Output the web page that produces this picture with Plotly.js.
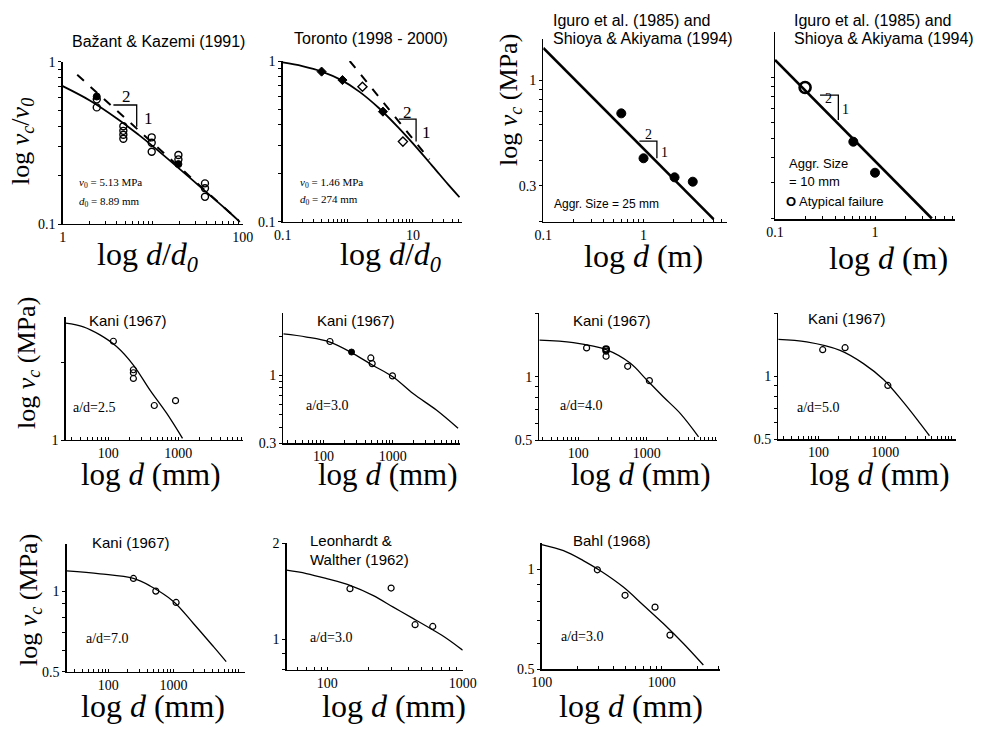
<!DOCTYPE html>
<html><head><meta charset="utf-8">
<script src="https://cdn.plot.ly/plotly-3.0.1.min.js"></script>
<style>body{margin:0;background:#fff}</style>
</head><body>
<div id="chart" style="width:981px;height:730px"></div>
<script>
// ---------- DATA ----------
// Panel 1: Bazant & Kazemi (1991)  (x = d/d0, y = vc/v0)
const bk_x = [2.39,2.39, 4.72,4.72,4.72,4.72, 9.75,9.75,9.75, 19.3,19.3, 38.1,38.1,38.1];
const bk_y = [0.586,0.523, 0.40,0.375,0.355,0.335, 0.342,0.317,0.279, 0.266,0.25, 0.178,0.166,0.147];
const bk_fx = [2.39, 19.3];
const bk_fy = [0.61, 0.234];
const bk_cx = [1, 2, 4, 7, 10, 20, 40, 70, 93];
const bk_cy = [0.707, 0.577, 0.447, 0.354, 0.302, 0.218, 0.156, 0.119, 0.103];
const bk_dx = [1.45, 90];
const bk_dy = [0.83, 0.105];
const bk_tx = [3.66, 6.64, 6.64];
const bk_ty = [0.541, 0.541, 0.398];
// Panel 2: Toronto (1998-2000)
const to_fx = [0.396, 0.828, 3.47];
const to_fy = [0.859, 0.761, 0.484];
const to_ox = [1.68, 7.03];
const to_oy = [0.692, 0.315];
const to_cx = [0.1, 0.2, 0.4, 0.8, 1.5, 3, 6, 10, 20, 35, 52];
const to_cy = [0.98, 0.93, 0.86, 0.76, 0.645, 0.51, 0.385, 0.307, 0.222, 0.17, 0.142];
const to_dx = [1.07, 18];
const to_dy = [1.0, 0.244];
const to_tx = [6.1, 11.2, 11.2];
const to_ty = [0.435, 0.435, 0.315];
// Panel 3: Iguro / Shioya, aggr. 25 mm (d in m, vc in MPa)
const ig25_x = [0.6, 1.0, 2.04, 3.1];
const ig25_y = [0.684, 0.41, 0.33, 0.314];
const ig25_lx = [0.1, 5.0];
const ig25_ly = [1.44, 0.205];
const ig25_tx = [0.91, 1.36, 1.36];
const ig25_ty = [0.499, 0.499, 0.41];
// Panel 4: Iguro / Shioya, aggr. 10 mm
const ig10_x = [0.607, 1.0];
const ig10_y = [0.48, 0.337];
const ig10_ax = [0.2];
const ig10_ay = [0.89];
const ig10_lx = [0.1, 3.7];
const ig10_ly = [1.22, 0.2];
const ig10_tx = [0.282, 0.43, 0.43];
const ig10_ty = [0.817, 0.817, 0.615];
// Panel 5: Kani a/d=2.5 (d in mm)
const k25_x = [118, 228, 228, 228, 454, 914];
const k25_y = [2.41, 1.87, 1.82, 1.73, 1.36, 1.42];
const k25_cx = [24.5, 43.9, 75.9, 131, 228, 394, 681, 1150];
const k25_cy = [2.83, 2.74, 2.55, 2.30, 1.95, 1.56, 1.27, 1.015];
// Panel 6: Kani a/d=3.0
const k30_x = [124, 482, 504, 989];
const k30_y = [1.82, 1.36, 1.23, 0.99];
const k30_fx = [254];
const k30_fy = [1.51];
const k30_cx = [26.3, 57, 124, 268, 521, 1012, 1963, 4257, 8750];
const k30_cy = [2.08, 1.97, 1.80, 1.47, 1.19, 0.971, 0.724, 0.540, 0.391];
// Panel 7: Kani a/d=4.0
const k40_x = [132, 254, 254, 525, 1090];
const k40_y = [1.37, 1.32, 1.25, 1.12, 0.957];
const k40_fx = [254];
const k40_fy = [1.35];
const k40_cx = [26.9, 84.5, 260, 570, 1000, 1751, 3070, 5690];
const k40_cy = [1.49, 1.45, 1.34, 1.16, 0.964, 0.80, 0.669, 0.518];
// Panel 8: Kani a/d=5.0
const k50_x = [116, 251, 1096];
const k50_y = [1.34, 1.37, 0.904];
const k50_cx = [25, 66.8, 211, 473, 944, 1884, 3350, 4600];
const k50_cy = [1.50, 1.46, 1.33, 1.15, 0.965, 0.75, 0.594, 0.52];
// Panel 9: Kani a/d=7.0
const k70_x = [243, 536, 1100];
const k70_y = [1.115, 1.0, 0.907];
const k70_cx = [22.9, 74.6, 243, 439, 1000, 2030, 4130, 6470];
const k70_cy = [1.19, 1.16, 1.115, 1.045, 0.915, 0.757, 0.62, 0.545];
// Panel 10: Leonhardt & Walther (1962)
const lw_x = [147, 296, 445, 601];
const lw_y = [1.44, 1.447, 1.11, 1.096];
const lw_cx = [50, 70, 99, 147, 219, 307, 432, 600, 762, 1000];
const lw_cy = [1.646, 1.607, 1.549, 1.476, 1.37, 1.26, 1.16, 1.07, 1.005, 0.923];
// Panel 11: Bahl (1968)
const bh_x = [291, 495, 880, 1172];
const bh_y = [0.998, 0.836, 0.77, 0.634];
const bh_cx = [100, 152, 222, 306, 479, 704, 1032, 1517, 2224];
const bh_cy = [1.189, 1.14, 1.064, 0.993, 0.885, 0.78, 0.687, 0.598, 0.515];

// tick labels per panel
const p1_xl = ['1','100'],  p1_yl = ['0.1','1'];
const p2_xl = ['0.1','10'], p2_yl = ['0.1','1'];
const p3_xl = ['0.1','1'],  p3_yl = ['0.3','1'];
const p4_xl = ['0.1','1'],  p4_yl = [];
const p5_xl = ['100','1000'], p5_yl = ['1','3'];
const p6_xl = ['100','1000'], p6_yl = ['0.3','1'];
const p7_xl = ['100','1000'], p7_yl = ['0.5','1'];
const p8_xl = ['100','1000'], p8_yl = ['0.5','1'];
const p9_xl = ['100','1000'], p9_yl = ['0.5','1'];
const p10_xl = ['100','1000'], p10_yl = ['1','2'];
const p11_xl = ['100','1000'], p11_yl = ['0.5','1'];

// ---------- LAYOUT ----------
const W = 981, H = 730;
const SANS = 'Liberation Sans, Arial, sans-serif';
const SERIF = 'Liberation Serif, Times New Roman, serif';
function fx(x){ return x / W; }
function fy(y){ return 1 - y / H; }

// panel boxes in pixels [left, right, top, bottom] and log ranges
const panels = [
  {box:[62.7,242.7,61.7,224],  xr:[0,2],        yr:[-1,0],          xl:p1_xl, yl:p1_yl},
  {box:[282.7,461.7,61,221.7], xr:[-1,1.75],    yr:[-1,0],          xl:p2_xl, yl:p2_yl},
  {box:[543.3,726.7,39,221.7], xr:[-1,0.83],    yr:[-0.701,0.203],  xl:p3_xl, yl:p3_yl},
  {box:[775,955,31.7,219.3],   xr:[-1,0.8],     yr:[-0.703,0.226],  xl:p4_xl, yl:p4_yl},
  {box:[65.7,243.3,316.7,440], xr:[1.39,3.93],  yr:[0,0.477],       xl:p5_xl, yl:p5_yl},
  {box:[283.3,460,313.3,443.3],xr:[1.42,3.97],  yr:[-0.523,0.477],  xl:p6_xl, yl:p6_yl},
  {box:[539.3,716.7,313.3,440],xr:[1.43,4.02],  yr:[-0.301,0.301],  xl:p7_xl, yl:p7_yl},
  {box:[778.3,956,313.3,439.3],xr:[1.40,4.06],  yr:[-0.301,0.301],  xl:p8_xl, yl:p8_yl},
  {box:[66.7,245,544,671.7],   xr:[1.36,4.10],  yr:[-0.301,0.176],  xl:p9_xl, yl:p9_yl},
  {box:[286.7,462.7,543.3,670],xr:[1.7,3.0],    yr:[-0.097,0.301],  xl:p10_xl, yl:p10_yl},
  {box:[541.7,720,543.3,669.3],xr:[2,3.486],    yr:[-0.301,0.079],  xl:p11_xl, yl:p11_yl}
];

function logTicks(r, labels){
  const vals = [], text = [];
  for (let k = Math.floor(r[0]) - 1; k <= Math.ceil(r[1]); k++){
    for (let m = 1; m <= 9; m++){
      const v = m * Math.pow(10, k);
      const lv = Math.log10(v);
      if (lv < r[0] - 1e-3 || lv > r[1] + 1e-3) continue;
      vals.push(v);
      let t = '';
      labels.forEach(function(l){ if (Math.abs(Math.log10(parseFloat(l)) - lv) < 1e-6) t = l; });
      text.push(t);
    }
  }
  return {vals: vals, text: text};
}

const layout = {
  width: W, height: H, margin: {l:0, r:0, t:0, b:0},
  paper_bgcolor: '#fff', plot_bgcolor: 'rgba(0,0,0,0)',
  showlegend: false, annotations: []
};

panels.forEach(function(p, i){
  const n = i + 1;
  const xt = logTicks(p.xr, p.xl), yt = logTicks(p.yr, p.yl);
  layout['xaxis' + n] = {
    type:'log', range:p.xr, domain:[fx(p.box[0]), fx(p.box[1])], anchor:'y' + n,
    showline:true, linecolor:'#000', linewidth:1.3, showgrid:false, zeroline:false,
    ticks:'inside', ticklen:3, tickwidth:1, tickcolor:'#000',
    tickmode:'array', tickvals:xt.vals, ticktext:xt.text,
    tickfont:{family:SERIF, size:14, color:'#000'}, fixedrange:true
  };
  layout['yaxis' + n] = {
    type:'log', range:p.yr, domain:[fy(p.box[3]), fy(p.box[2])], anchor:'x' + n,
    showline:true, linecolor:'#000', linewidth:1.3, showgrid:false, zeroline:false,
    ticks:'outside', ticklen:3, tickwidth:1, tickcolor:'#000',
    tickmode:'array', tickvals:yt.vals, ticktext:yt.text,
    tickfont:{family:SERIF, size:14, color:'#000'}, fixedrange:true
  };
});

const traces = [];
function ax(n){ return {xaxis: n === 1 ? 'x' : 'x' + n, yaxis: n === 1 ? 'y' : 'y' + n}; }
function line(n, x, y, w, dash, smooth){
  traces.push(Object.assign({type:'scatter', mode:'lines', x:x, y:y,
    line:{color:'#000', width:w, dash:dash || 'solid', shape: smooth ? 'spline' : 'linear'},
    hoverinfo:'skip'}, ax(n)));
}
function pts(n, x, y, sym, size, lw){
  traces.push(Object.assign({type:'scatter', mode:'markers', x:x, y:y,
    marker:{symbol:sym, size:size, color:'#000', line:{color:'#000', width:lw}}, hoverinfo:'skip'}, ax(n)));
}

// panel 1
line(1, bk_cx, bk_cy, 1.8, 'solid', true);
line(1, bk_dx, bk_dy, 2, 'dash');
line(1, bk_tx, bk_ty, 1.3);
pts(1, bk_x, bk_y, 'circle-open', 7, 1.4);
pts(1, bk_fx, bk_fy, 'circle', 7, 1);
// panel 2
line(2, to_cx, to_cy, 1.8, 'solid', true);
line(2, to_dx, to_dy, 2, 'dash');
line(2, to_tx, to_ty, 1.3);
pts(2, to_fx, to_fy, 'diamond', 7, 1);
pts(2, to_ox, to_oy, 'diamond-open', 7, 1.4);
// panel 3
line(3, ig25_lx, ig25_ly, 2.6);
line(3, ig25_tx, ig25_ty, 1.3);
pts(3, ig25_x, ig25_y, 'circle', 9, 1);
// panel 4
line(4, ig10_lx, ig10_ly, 2.6);
line(4, ig10_tx, ig10_ty, 1.3);
pts(4, ig10_x, ig10_y, 'circle', 9, 1);
pts(4, ig10_ax, ig10_ay, 'circle-open', 11, 2.6);
// row 2 and 3
line(5, k25_cx, k25_cy, 1.3, 'solid', true);  pts(5, k25_x, k25_y, 'circle-open', 6, 1.2);
line(6, k30_cx, k30_cy, 1.3, 'solid', true);  pts(6, k30_x, k30_y, 'circle-open', 6, 1.2); pts(6, k30_fx, k30_fy, 'circle', 6, 1);
line(7, k40_cx, k40_cy, 1.3, 'solid', true);  pts(7, k40_x, k40_y, 'circle-open', 6, 1.2); pts(7, k40_fx, k40_fy, 'circle-open', 6, 2);
line(8, k50_cx, k50_cy, 1.3, 'solid', true);  pts(8, k50_x, k50_y, 'circle-open', 6, 1.2);
line(9, k70_cx, k70_cy, 1.3, 'solid', true);  pts(9, k70_x, k70_y, 'circle-open', 6, 1.2);
line(10, lw_cx, lw_cy, 1.3, 'solid', true);   pts(10, lw_x, lw_y, 'circle-open', 6, 1.2);
line(11, bh_cx, bh_cy, 1.3, 'solid', true);   pts(11, bh_x, bh_y, 'circle-open', 6, 1.2);

function ann(text, x, y, font, size, xanchor, angle){
  const a = {text:text, x:fx(x), y:fy(y), xref:'paper', yref:'paper', showarrow:false,
    xanchor:xanchor || 'center', yanchor:'middle',
    font:{family:font, size:size, color:'#000'}};
  if (angle !== undefined) a.textangle = angle;
  layout.annotations.push(a);
}
// titles
ann('Bažant &amp; Kazemi (1991)', 158, 41, SANS, 16);
ann('Toronto (1998 - 2000)', 371, 39, SANS, 16);
ann('Iguro et al. (1985) and', 551, 20, SANS, 16, 'left');
ann('Shioya &amp; Akiyama (1994)', 551, 39, SANS, 16, 'left');
ann('Iguro et al. (1985) and', 792, 20, SANS, 16, 'left');
ann('Shioya &amp; Akiyama (1994)', 792, 39, SANS, 16, 'left');
ann('Kani (1967)', 128, 320, SANS, 15);
ann('Kani (1967)', 356, 320, SANS, 15);
ann('Kani (1967)', 612, 320, SANS, 15);
ann('Kani (1967)', 847, 318, SANS, 15);
ann('Kani (1967)', 131, 542, SANS, 15);
ann('Leonhardt &amp;', 308, 540, SANS, 15, 'left');
ann('Walther (1962)', 308, 559, SANS, 15, 'left');
ann('Bahl (1968)', 612, 540, SANS, 15);
// in-plot texts
ann('<i>v</i><sub>0</sub> = 5.13 MPa', 77, 183, SERIF, 11, 'left');
ann('<i>d</i><sub>0</sub> = 8.89 mm', 77, 202, SERIF, 11, 'left');
ann('<i>v</i><sub>0</sub> = 1.46 MPa', 298, 183, SERIF, 11, 'left');
ann('<i>d</i><sub>0</sub> = 274 mm', 298, 200, SERIF, 11, 'left');
ann('Aggr. Size = 25 mm', 552, 204, SANS, 12, 'left');
ann('Aggr. Size', 787, 163, SANS, 13, 'left');
ann('= 10 mm', 787, 182, SANS, 13, 'left');
ann('<b>O</b> Atypical failure', 784, 202, SANS, 13, 'left');
ann('a/d=2.5', 94, 407, SERIF, 14);
ann('a/d=3.0', 327, 405, SERIF, 14);
ann('a/d=4.0', 581, 405, SERIF, 14);
ann('a/d=5.0', 818, 407, SERIF, 14);
ann('a/d=7.0', 107, 638, SERIF, 14);
ann('a/d=3.0', 331, 637, SERIF, 14);
ann('a/d=3.0', 582, 636, SERIF, 14);
// slope triangle labels
ann('2', 126, 97, SERIF, 17); ann('1', 148, 119, SERIF, 17);
ann('2', 407, 112, SERIF, 17); ann('1', 426, 133, SERIF, 17);
ann('2', 648, 135, SERIF, 14); ann('1', 664, 152, SERIF, 14);
ann('2', 828, 98, SERIF, 14); ann('1', 845, 109, SERIF, 14);
// axis titles
const XD0 = 'log <i>d</i>/<i>d</i><sub><i>0</i></sub>';
const XM = 'log <i>d</i> (m)';
const XMM = 'log <i>d</i> (mm)';
ann(XD0, 147, 257, SERIF, 32);
ann(XD0, 390, 257, SERIF, 32);
ann(XM, 643, 256, SERIF, 32);
ann(XM, 888, 258, SERIF, 32);
ann(XMM, 151, 474, SERIF, 31);
ann(XMM, 388, 474, SERIF, 31);
ann(XMM, 641, 474, SERIF, 31);
ann(XMM, 880, 474, SERIF, 31);
ann(XMM, 153, 706, SERIF, 32);
ann(XMM, 394, 706, SERIF, 32);
ann(XMM, 631, 706, SERIF, 32);
const YV0 = 'log <i>v</i><sub><i>c</i></sub>/<i>v</i><sub><i>0</i></sub>';
const YMPA = 'log <i>v</i><sub><i>c</i></sub> (MPa)';
ann(YV0, 22, 142, SERIF, 26, 'center', -90);
ann(YMPA, 510, 100, SERIF, 26, 'center', -90);
ann(YMPA, 28, 363, SERIF, 26, 'center', -90);
ann(YMPA, 30, 600, SERIF, 26, 'center', -90);

Plotly.newPlot('chart', traces, layout, {displayModeBar:false, staticPlot:true});
</script>
</body></html>
